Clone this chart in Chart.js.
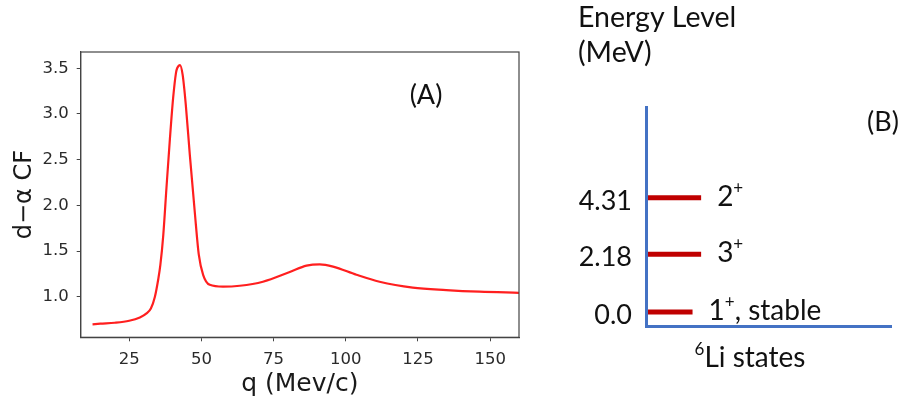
<!DOCTYPE html>
<html>
<head>
<meta charset="utf-8">
<script src="https://cdn.jsdelivr.net/npm/chart.js@4.4.1/dist/chart.umd.min.js"></script>
<style>
  html, body { margin: 0; padding: 0; background: #ffffff; }
  #wrap { position: relative; width: 903px; height: 404px; overflow: hidden; }
  canvas { position: absolute; top: 0; }
  #cf { left: 0; }
  #li { left: 540px; }
</style>
</head>
<body>
<div id="wrap">
  <canvas id="cf" width="540" height="404"></canvas>
  <canvas id="li" width="363" height="404"></canvas>
</div>
<script>
// ---- (A) d-alpha correlation function vs. relative momentum q ----
const qValues  = [12.3, 15.0, 20.0, 25.0, 28.7, 31.0, 32.5, 33.9, 35.0, 35.8, 36.8, 37.9, 39.1, 40.2, 41.2, 41.6, 42.6, 43.5, 44.6, 46.0, 47.7, 49.1, 50.6, 52.9, 57.5, 63.3, 71.3, 80.6, 86.4, 91.0, 95.6, 103.7, 111.7, 123.2, 134.8, 146.3, 160.0];
const cfValues = [0.698, 0.705, 0.715, 0.737, 0.774, 0.818, 0.870, 1.000, 1.180, 1.350, 1.675, 2.190, 2.730, 3.170, 3.450, 3.500, 3.535, 3.430, 3.100, 2.550, 1.930, 1.460, 1.240, 1.130, 1.110, 1.120, 1.164, 1.270, 1.340, 1.355, 1.330, 1.240, 1.164, 1.100, 1.073, 1.055, 1.043];
const qTicks   = [25, 50, 75, 100, 125, 150];
const cfTicks  = [1.0, 1.5, 2.0, 2.5, 3.0, 3.5];

// ---- (B) 6Li level scheme ----
const levelEnergies   = [0.0, 2.18, 4.31];
const levelTickLabels = ['0.0', '2.18', '4.31'];
const levelSpins      = ['1⁺, stable', '3⁺', '2⁺'];
const panelLabels     = ['(A)', '(B)'];

const MPL_FONT = '"DejaVu Sans", sans-serif';
const DOC_FONT = 'Lato, "Open Sans", sans-serif';
const SUP = { '⁺': '+', '⁶': '6' };

// Draws text, rendering superscript characters as small raised glyphs.
function drawRich(ctx, text, x, y, size, family, align) {
  const runs = [];
  for (const ch of text) {
    const sup = ch in SUP;
    const c = sup ? SUP[ch] : ch;
    const last = runs[runs.length - 1];
    if (last && last.sup === sup) last.t += c; else runs.push({ t: c, sup });
  }
  const fontFor = r => (r.sup ? Math.round(size * 0.6) : size) + 'px ' + family;
  let total = 0;
  for (const r of runs) { ctx.font = fontFor(r); r.w = ctx.measureText(r.t).width; total += r.w; }
  let cx = align === 'center' ? x - total / 2 : x;
  ctx.textAlign = 'left';
  ctx.textBaseline = 'middle';
  for (const r of runs) {
    ctx.font = fontFor(r);
    ctx.fillText(r.t, cx, r.sup ? y - size * 0.3 : y);
    cx += r.w;
  }
}

Chart.defaults.animation = false;

// Frame around the plot area plus the panel tag
const frameA = {
  id: 'frameA',
  afterDraw(chart) {
    const { ctx, chartArea: a } = chart;
    ctx.save();
    ctx.strokeStyle = '#444444';
    ctx.lineWidth = 1.2;
    ctx.strokeRect(a.left, a.top, a.right - a.left, a.bottom - a.top);
    ctx.fillStyle = '#111111';
    ctx.font = '27px ' + DOC_FONT;
    ctx.textAlign = 'center';
    ctx.textBaseline = 'middle';
    ctx.fillText(panelLabels[0], 426, 95);
    ctx.restore();
  }
};

new Chart(document.getElementById('cf'), {
  type: 'line',
  data: {
    datasets: [{
      data: qValues.map((q, i) => ({ x: q, y: cfValues[i] })),
      borderColor: '#ff1f1f',
      borderWidth: 2.2,
      pointRadius: 0,
      cubicInterpolationMode: 'monotone',
      fill: false
    }]
  },
  options: {
    responsive: false,
    layout: { padding: { top: 52, right: 21, bottom: 0, left: 0 } },
    plugins: { legend: { display: false }, tooltip: { enabled: false } },
    scales: {
      x: {
        type: 'linear',
        min: 8.2,
        max: 160,
        afterBuildTicks: s => { s.ticks = qTicks.map(v => ({ value: v })); },
        afterFit: s => { s.height = 66.7; },
        grid: { display: true, drawOnChartArea: false, drawTicks: true, tickLength: 4, color: '#444444' },
        border: { display: true, color: '#444444', width: 1.2 },
        ticks: { padding: 9, color: '#2a2a2a', font: { family: MPL_FONT, size: 16.5 }, maxRotation: 0, callback: v => String(v) },
        title: { display: true, text: 'q (Mev/c)', color: '#1a1a1a', font: { family: MPL_FONT, size: 25 }, padding: { top: 0, bottom: 5 } }
      },
      y: {
        type: 'linear',
        min: 0.556,
        max: 3.678,
        afterBuildTicks: s => { s.ticks = cfTicks.map(v => ({ value: v })); },
        afterFit: s => { s.width = 80.7; },
        grid: { display: true, drawOnChartArea: false, drawTicks: true, tickLength: 4, color: '#444444' },
        border: { display: true, color: '#444444', width: 1.2 },
        ticks: { padding: 8, color: '#2a2a2a', font: { family: MPL_FONT, size: 16.5 }, callback: v => v.toFixed(1) },
        title: { display: true, text: 'd\u2212\u03b1 CF', color: '#1a1a1a', font: { family: MPL_FONT, size: 24 }, padding: { top: 10, bottom: 0 } }
      }
    }
  },
  plugins: [frameA]
});

// Level labels, axis captions and the panel tag for the level scheme
const LEVEL_BAR_LEN = [1.9, 2.25, 2.25];
const annotB = {
  id: 'annotB',
  afterDraw(chart) {
    const { ctx, scales } = chart;
    ctx.save();
    ctx.fillStyle = '#111111';
    levelEnergies.forEach((e, i) => {
      const y = scales.y.getPixelForValue(e) - 1;
      const x = scales.x.getPixelForValue(LEVEL_BAR_LEN[i]) + 16;
      drawRich(ctx, levelSpins[i], x, y, 28, DOC_FONT, 'left');
    });
    ctx.font = '28.5px ' + DOC_FONT;
    ctx.textAlign = 'left';
    ctx.textBaseline = 'alphabetic';
    ctx.fillText('Energy Level', 38, 27);
    ctx.fillText('(MeV)', 38, 62);
    drawRich(ctx, '⁶Li states', 210, 358, 28, DOC_FONT, 'center');
    ctx.font = '27px ' + DOC_FONT;
    ctx.textAlign = 'center';
    ctx.textBaseline = 'middle';
    ctx.fillText(panelLabels[1], 343, 122);
    ctx.restore();
  }
};

new Chart(document.getElementById('li'), {
  type: 'line',
  data: {
    datasets: levelEnergies.map((e, i) => ({
      data: [{ x: 0, y: e }, { x: LEVEL_BAR_LEN[i], y: e }],
      borderColor: '#c00000',
      borderWidth: 5,
      borderCapStyle: 'butt',
      pointRadius: 0,
      tension: 0,
      fill: false
    }))
  },
  options: {
    responsive: false,
    layout: { padding: { top: 107, right: 12, bottom: 0, left: 0 } },
    plugins: { legend: { display: false }, tooltip: { enabled: false } },
    scales: {
      x: {
        type: 'linear',
        min: 0,
        max: 10,
        afterFit: s => { s.height = 78; },
        grid: { display: false },
        ticks: { display: false },
        border: { display: true, color: '#4472c4', width: 3, z: 1 }
      },
      y: {
        type: 'linear',
        min: -0.53,
        max: 7.74,
        afterBuildTicks: s => { s.ticks = levelEnergies.map(v => ({ value: v })); },
        afterFit: s => { s.width = 106; },
        grid: { display: false },
        border: { display: true, color: '#4472c4', width: 3, z: 1 },
        ticks: {
          padding: 6,
          labelOffset: 3,
          color: '#111111',
          font: { family: DOC_FONT, size: 27 },
          callback: v => levelTickLabels[levelEnergies.indexOf(v)]
        }
      }
    }
  },
  plugins: [annotB]
});
</script>
</body>
</html>
